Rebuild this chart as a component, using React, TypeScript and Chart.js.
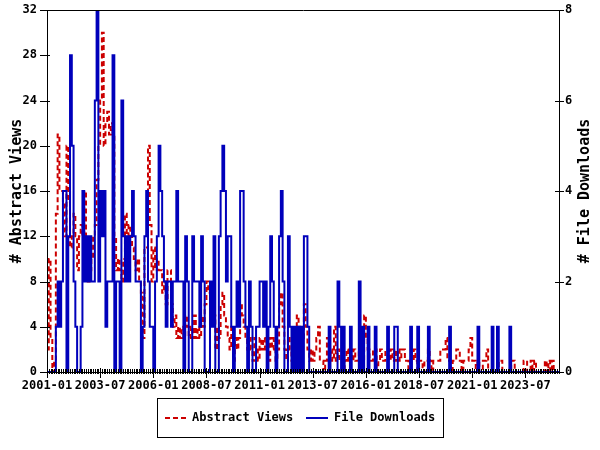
import React, { useEffect, useRef } from "react";
import { Chart, registerables } from "chart.js";

Chart.register(...registerables);

const START_YEAR = 2001;
const MONTH_COUNT = 290;
const TICK_LABELS = ["2001-01", "2003-07", "2006-01", "2008-07", "2011-01", "2013-07", "2016-01", "2018-07", "2021-01", "2023-07"];
const TICK_EVERY = 30;

const VIEWS = [
  2, 10, 3, 0, 1, 14, 21, 16, 16, 15,
  12, 20, 15, 11, 12, 14, 12, 9, 12, 13,
  12, 16, 10, 8, 9, 10, 12, 13, 17, 20,
  24, 30, 20, 22, 23, 21, 22, 21, 12, 9,
  10, 9, 8, 10, 14, 12, 13, 12, 11, 10,
  9, 10, 8, 7, 3, 11, 11, 20, 13, 8,
  11, 9, 10, 9, 9, 7, 8, 6, 9, 9,
  6, 4, 5, 3, 4, 3, 4, 3, 5, 4,
  3, 4, 3, 5, 3, 4, 3, 5, 4, 6,
  8, 7, 5, 4, 5, 2, 4, 3, 6, 7,
  5, 4, 3, 2, 4, 1, 3, 2, 3, 6,
  5, 4, 3, 2, 3, 2, 1, 3, 2, 1,
  3, 2, 3, 2, 3, 1, 3, 2, 3, 1,
  2, 6, 7, 4, 2, 1, 3, 2, 1, 2,
  3, 5, 4, 2, 3, 6, 4, 2, 1, 2,
  1, 2, 3, 4, 1, 1, 0, 1, 3, 1,
  2, 1, 4, 1, 2, 1, 1, 0, 1, 2,
  1, 2, 1, 2, 1, 1, 2, 1, 1, 5,
  3, 2, 1, 1, 2, 2, 0, 1, 2, 1,
  1, 2, 2, 1, 2, 1, 2, 1, 2, 1,
  2, 2, 1, 1, 0, 1, 1, 2, 1, 0,
  1, 1, 0, 1, 1, 2, 1, 0, 1, 1,
  1, 1, 2, 2, 2, 3, 1, 1, 0, 1,
  1, 2, 2, 1, 0, 1, 1, 1, 2, 3,
  1, 1, 0, 1, 0, 0, 1, 1, 2, 0,
  0, 0, 0, 0, 0, 1, 1, 0, 0, 0,
  0, 0, 1, 1, 0, 0, 0, 0, 0, 1,
  1, 0, 0, 1, 0, 1, 0, 0, 0, 0,
  0, 1, 0, 1, 0, 1, 0, 0, 0, 0,
];

const DOWNLOADS = [
  0, 0, 0, 0, 0, 1, 2, 1, 2, 4,
  4, 0, 3, 7, 5, 2, 1, 0, 0, 1,
  4, 2, 3, 2, 3, 2, 2, 6, 8, 2,
  4, 3, 4, 1, 2, 2, 2, 7, 0, 2,
  2, 0, 6, 3, 2, 3, 2, 3, 4, 3,
  2, 2, 2, 0, 1, 3, 4, 2, 1, 1,
  0, 2, 3, 5, 4, 3, 2, 1, 2, 2,
  1, 2, 2, 4, 2, 2, 2, 0, 3, 2,
  0, 0, 3, 2, 2, 2, 1, 3, 2, 0,
  0, 0, 2, 1, 3, 0, 0, 3, 4, 5,
  4, 2, 3, 3, 1, 0, 1, 2, 1, 4,
  4, 2, 1, 0, 2, 1, 0, 0, 1, 1,
  2, 2, 1, 2, 0, 1, 3, 2, 1, 0,
  1, 3, 4, 2, 0, 0, 3, 1, 0, 1,
  0, 1, 0, 1, 0, 3, 3, 1, 0, 0,
  0, 0, 0, 0, 0, 0, 0, 0, 0, 1,
  0, 0, 0, 0, 2, 1, 0, 1, 0, 0,
  0, 1, 0, 0, 0, 0, 2, 0, 1, 0,
  0, 1, 0, 0, 0, 1, 0, 0, 0, 0,
  0, 0, 1, 0, 0, 0, 1, 1, 0, 0,
  0, 0, 0, 0, 0, 1, 0, 0, 0, 1,
  0, 0, 0, 0, 0, 1, 0, 0, 0, 0,
  0, 0, 0, 0, 0, 0, 0, 1, 0, 0,
  0, 0, 0, 0, 0, 0, 0, 0, 0, 0,
  0, 0, 0, 1, 0, 0, 0, 0, 0, 0,
  0, 1, 0, 0, 1, 0, 0, 0, 0, 0,
  0, 1, 0, 0, 0, 0, 0, 0, 0, 0,
  0, 0, 0, 0, 0, 0, 0, 0, 0, 0,
  0, 0, 0, 0, 0, 0, 0, 0, 0, 0,
];

const SERIES_NAMES = ["Abstract Views", "File Downloads"];
const AXIS_TITLES = ["# Abstract Views", "# File Downloads"];
const RED = "#cc0000";
const BLUE = "#0000bb";
const FONT = "DejaVu Sans Mono";

const MONTHS: string[] = [];
for (let k = 0; k < MONTH_COUNT; k++) {
  const y = START_YEAR + Math.floor(k / 12);
  const m = (k % 12) + 1;
  MONTHS.push(`${y}-${m < 10 ? "0" + m : m}`);
}

const decor = {
  id: "decor",
  afterDraw(chart: any) {
    const { ctx, chartArea: a, scales } = chart;
    const L = Math.round(a.left), R = Math.round(a.right), T = Math.round(a.top), B = Math.round(a.bottom);
    ctx.save();
    ctx.strokeStyle = "#000";
    ctx.lineWidth = 1;
    ctx.beginPath();
    ctx.moveTo(L + 0.5, T + 0.5); ctx.lineTo(R + 0.5, T + 0.5);
    ctx.moveTo(L + 0.5, T); ctx.lineTo(L + 0.5, B + 1);
    ctx.moveTo(R + 0.5, T); ctx.lineTo(R + 0.5, B + 1);
    ctx.moveTo(L, B + 0.5); ctx.lineTo(R + 1, B + 0.5);
    for (let v = 0; v <= 32; v += 4) {
      const y = Math.round(scales.y.getPixelForValue(v)) + 0.5;
      ctx.moveTo(L - 7, y); ctx.lineTo(L + 3, y);
    }
    for (let d = 0; d <= 8; d += 2) {
      const y = Math.round(scales.y1.getPixelForValue(d)) + 0.5;
      ctx.moveTo(R - 4, y); ctx.lineTo(R + 5, y);
    }
    for (let k = 0; k < MONTH_COUNT; k++) {
      const x = Math.round(scales.x.getPixelForValue(k)) + 0.5;
      if (k % TICK_EVERY === 0) {
        ctx.moveTo(x, B - 4); ctx.lineTo(x, B + 6);
      } else {
        ctx.moveTo(x, B - 3); ctx.lineTo(x, B + 2);
      }
    }
    ctx.stroke();

    ctx.fillStyle = "#000";
    ctx.font = `bold 15px '${FONT}'`;
    ctx.textAlign = "center";
    ctx.textBaseline = "middle";
    const cy = (a.top + a.bottom) / 2;
    ctx.save();
    ctx.translate(17, cy);
    ctx.rotate(-Math.PI / 2);
    ctx.fillText(AXIS_TITLES[0], 0, 0);
    ctx.restore();
    ctx.save();
    ctx.translate(585, cy);
    ctx.rotate(-Math.PI / 2);
    ctx.fillText(AXIS_TITLES[1], 0, 0);
    ctx.restore();

    const bx = 157, by = 398, bw = 286, bh = 39;
    ctx.strokeStyle = "#000";
    ctx.lineWidth = 1;
    ctx.strokeRect(bx + 0.5, by + 0.5, bw, bh);
    const ly = by + 20;
    ctx.lineWidth = 2;
    ctx.strokeStyle = RED;
    ctx.setLineDash([5, 3]);
    ctx.beginPath(); ctx.moveTo(165, ly); ctx.lineTo(187, ly); ctx.stroke();
    ctx.setLineDash([]);
    ctx.strokeStyle = BLUE;
    ctx.beginPath(); ctx.moveTo(306, ly); ctx.lineTo(328, ly); ctx.stroke();
    ctx.font = `bold 12px '${FONT}'`;
    ctx.textAlign = "left";
    ctx.fillText(SERIES_NAMES[0], 192, ly);
    ctx.fillText(SERIES_NAMES[1], 334, ly);
    ctx.restore();
  },
};

export default function App() {
  const ref = useRef<HTMLCanvasElement | null>(null);
  useEffect(() => {
    document.body.style.margin = "0";
    const tickFont = { family: FONT, size: 12, weight: "bold" as const };
    const noPadY = (w: number) => (s: any) => {
      s.width = w;
      s.paddingTop = 0;
      s.paddingBottom = 0;
    };
    const chart = new Chart(ref.current as HTMLCanvasElement, {
      type: "line",
      data: {
        labels: MONTHS,
        datasets: [
          {
            label: SERIES_NAMES[0],
            data: VIEWS,
            yAxisID: "y",
            borderColor: RED,
            borderWidth: 2,
            borderDash: [5, 3],
            borderJoinStyle: "miter",
            stepped: true,
            pointRadius: 0,
            fill: false,
            order: 1,
          },
          {
            label: SERIES_NAMES[1],
            data: DOWNLOADS,
            yAxisID: "y1",
            borderColor: BLUE,
            borderWidth: 2,
            borderJoinStyle: "miter",
            stepped: true,
            pointRadius: 0,
            fill: false,
            order: 0,
          },
        ],
      },
      options: {
        responsive: false,
        animation: false,
        layout: { padding: { top: 10, left: 0, right: 0, bottom: 0 } },
        plugins: { legend: { display: false }, tooltip: { enabled: false } },
        scales: {
          x: {
            type: "category",
            grid: { display: false, drawTicks: false },
            border: { display: false },
            afterFit: (s: any) => {
              s.height = 78;
              s.paddingLeft = 0;
              s.paddingRight = 0;
            },
            ticks: {
              autoSkip: false,
              maxRotation: 0,
              minRotation: 0,
              padding: 7,
              color: "#000",
              font: tickFont,
              callback: (_v: any, idx: number) => (idx % TICK_EVERY === 0 ? TICK_LABELS[idx / TICK_EVERY] ?? "" : ""),
            },
          },
          y: {
            position: "left",
            min: 0,
            max: 32,
            grid: { display: false, drawTicks: false },
            border: { display: false },
            afterFit: noPadY(47),
            ticks: { stepSize: 4, padding: 10, color: "#000", font: tickFont },
          },
          y1: {
            position: "right",
            min: 0,
            max: 8,
            grid: { display: false, drawTicks: false },
            border: { display: false },
            afterFit: noPadY(41),
            ticks: { stepSize: 2, padding: 6, color: "#000", font: tickFont },
          },
        },
      },
      plugins: [decor],
    });
    return () => chart.destroy();
  }, []);
  return (
    <div style={{ width: 600, height: 450, background: "#fff" }}>
      <canvas ref={ref} width={600} height={450} style={{ display: "block" }} />
    </div>
  );
}
